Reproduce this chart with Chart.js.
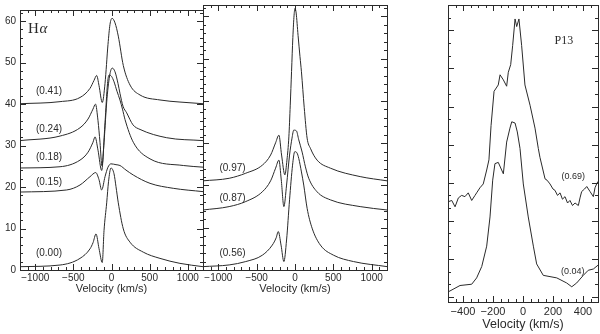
<!DOCTYPE html>
<html>
<head>
<meta charset="utf-8">
<script src="https://cdn.jsdelivr.net/npm/chart.js@4/dist/chart.umd.min.js"></script>
<style>
  html, body { margin: 0; padding: 0; background: #fff; }
  #wrap { position: relative; width: 600px; height: 334px; overflow: hidden; }
  canvas { position: absolute; top: 0; }
</style>
</head>
<body>
<div id="wrap">
  <canvas id="haLeft" width="205" height="300" style="left:0"></canvas>
  <canvas id="haMid" width="195" height="300" style="left:195px"></canvas>
  <canvas id="p13" width="170" height="334" style="left:430px"></canvas>
</div>
<script>
// ─── Data ───────────────────────────────────────────────────────────────────
// velocity (km/s) and flux for each Hα phase, left panel
const phasesLeft = ['(0.41)', '(0.24)', '(0.18)', '(0.15)', '(0.00)'];
const v041 = [-1200, -675, -413, -282, -230, -194, -164, -121, -85, -46, -20, 7, 46, 89, 155, 243, 374, 636, 898, 1200];
const f041 = [40.1, 40.6, 41.6, 43.8, 45.7, 46.9, 44.5, 40.4, 45.0, 54.4, 59.2, 60.7, 59.6, 56.4, 49.3, 44.6, 42.2, 41.0, 40.5, 40.1];
const v024 = [-1200, -675, -413, -308, -243, -210, -177, -151, -125, -98, -59, -20, 10, 46, 85, 111, 151, 199, 282, 374, 724, 1200];
const f024 = [31.2, 32.3, 34.3, 36.4, 38.8, 40.0, 36.0, 30.8, 25.1, 30.8, 41.4, 47.3, 48.7, 47.8, 45.0, 42.6, 39.5, 37.9, 35.0, 33.9, 31.9, 31.2];
const v018 = [-1200, -675, -413, -308, -243, -216, -177, -129, -85, -52, -33, 0, 33, 72, 111, 144, 177, 286, 505, 942, 1200];
const f018 = [24.6, 24.9, 26.5, 28.4, 30.8, 32.1, 28.9, 24.0, 35.5, 45.0, 47.0, 46.7, 45.4, 43.1, 41.0, 38.8, 36.3, 30.8, 26.8, 25.2, 24.8];
const v015 = [-1200, -588, -413, -282, -207, -164, -129, -85, -46, -7, 59, 111, 190, 286, 505, 810, 1200];
const f015 = [18.8, 19.3, 20.5, 22.5, 23.5, 21.8, 19.3, 22.5, 24.8, 25.6, 25.4, 25.2, 24.1, 22.9, 20.9, 19.7, 18.9];
const v000 = [-1200, -675, -413, -282, -242, -203, -164, -121, -98, -63, -39, -7, 33, 59, 89, 155, 243, 417, 636, 898, 1200];
const f000 = [0.8, 1.2, 2.8, 5.1, 6.6, 8.7, 5.2, 1.8, 9.5, 16.2, 21.3, 24.6, 23.2, 20.1, 16.2, 9.9, 6.7, 4.3, 2.8, 1.6, 0.8];

// middle panel
const phasesMid = ['(0.97)', '(0.87)', '(0.56)'];
const v097 = [-1200, -859, -642, -426, -318, -253, -210, -175, -132, -105, -80, -62, -45, -28, -12, 0, 15, 40, 65, 84, 120, 158, 201, 288, 461, 850, 1200];
const f097 = [21.1, 21.7, 22.9, 24.8, 27.2, 30.1, 31.9, 27.2, 22.5, 26.0, 31.5, 39.0, 47.0, 55.0, 60.3, 61.9, 60.8, 55.5, 50.5, 46.9, 38.5, 31.2, 28.8, 26.0, 24.1, 22.1, 21.1];
const v087 = [-1200, -859, -642, -426, -318, -253, -210, -179, -145, -110, -71, -39, -16, 19, 49, 93, 136, 179, 288, 461, 850, 1200];
const f087 = [14.2, 15.0, 16.2, 18.5, 21.1, 24.1, 26.0, 21.3, 15.0, 20.1, 27.2, 31.2, 33.1, 32.9, 30.8, 27.9, 24.4, 21.7, 18.5, 16.6, 15.0, 14.2];
const v056 = [-1200, -859, -642, -426, -296, -246, -218, -182, -145, -110, -71, -32, -3, 26, 49, 84, 114, 158, 223, 331, 503, 763, 1200];
const f056 = [0.8, 1.2, 2.0, 3.5, 5.9, 7.6, 9.1, 5.9, 2.0, 7.1, 16.6, 24.8, 28.0, 27.7, 26.4, 23.2, 20.1, 14.6, 9.9, 5.9, 3.5, 2.0, 0.8];

// P13 panel
const phasesP13 = ['(0.69)', '(0.04)'];
const vP069 = [-498, -475, -453, -431, -409, -387, -365, -342, -320, -309, -287, -265, -242, -227, -213, -193, -165, -153, -131, -109, -98, -82, -69, -53, -42, -27, -9, 13, 47, 80, 102, 113, 147, 160, 180, 200, 213, 230, 247, 263, 280, 297, 313, 330, 347, 369, 380, 391, 410, 425, 447, 469, 480, 491, 500];
const fP069 = [1.65, 1.66, 1.61, 1.68, 1.70, 1.69, 1.72, 1.66, 1.70, 1.72, 1.76, 1.79, 1.90, 1.98, 2.25, 2.52, 2.57, 2.65, 2.61, 2.56, 2.67, 2.73, 2.88, 3.09, 3.03, 3.09, 2.88, 2.57, 2.41, 2.23, 2.07, 2.00, 1.83, 1.82, 1.79, 1.75, 1.74, 1.70, 1.72, 1.67, 1.69, 1.64, 1.66, 1.62, 1.64, 1.62, 1.68, 1.73, 1.75, 1.77, 1.73, 1.69, 1.76, 1.79, 1.81];
const vP004 = [-498, -420, -342, -309, -275, -242, -220, -202, -187, -165, -131, -109, -87, -75, -53, -38, -20, 2, 35, 69, 91, 135, 225, 291, 325, 358, 402, 435, 469, 500];
const fP004 = [0.94, 0.99, 1.00, 1.05, 1.14, 1.30, 1.53, 1.82, 1.95, 1.96, 1.87, 2.12, 2.23, 2.28, 2.27, 2.20, 2.07, 1.79, 1.53, 1.30, 1.16, 1.07, 1.05, 1.01, 0.98, 1.01, 1.07, 1.11, 1.12, 1.15];

// tick labels
const haVelTicks = [-1000, -500, 0, 500, 1000];
const haFluxTicks = [0, 10, 20, 30, 40, 50, 60];
const p13VelTicks = [-400, -200, 0, 200, 400];

// ─── Shared styling ─────────────────────────────────────────────────────────
const INK = '#2a2a2a';
const SANS = '"Liberation Sans", Arial, sans-serif';
const SERIF = '"Liberation Serif", "Times New Roman", serif';

const pts = (vs, fs) => vs.map((v, i) => ({ x: v, y: fs[i] }));
const line = (vs, fs, smooth) => ({
    data: pts(vs, fs),
    borderColor: INK,
    borderWidth: 1,
    pointRadius: 0,
    fill: false,
    tension: smooth ? 0.4 : 0,
    cubicInterpolationMode: smooth ? 'monotone' : 'default'
});
const velLabel = v => (v < 0 ? '\u2212' : '') + Math.abs(v);

// frame + inward ticks + in-panel annotations
const frameTicks = {
    id: 'frameTicks',
    afterDraw(chart, args, o) {
        const { ctx, chartArea: a } = chart;
        const xs = chart.scales.x, ys = chart.scales.y;
        const steps = (min, max, step) => {
            const out = [];
            for (let k = Math.ceil(min / step - 1e-9); k * step <= max + 1e-9; k++) out.push(k * step);
            return out;
        };
        const isMajor = (v, step) => Math.abs(v / step - Math.round(v / step)) < 1e-6;

        ctx.save();
        ctx.strokeStyle = INK;
        ctx.lineWidth = 1;
        ctx.strokeRect(a.left + 0.5, a.top + 0.5, a.right - a.left, a.bottom - a.top);
        ctx.beginPath();
        steps(xs.min, xs.max, o.xMinor).forEach(v => {
            const len = isMajor(v, o.xMajor) ? 6 : 3;
            const px = Math.round(xs.getPixelForValue(v)) + 0.5;
            ctx.moveTo(px, a.bottom); ctx.lineTo(px, a.bottom - len);
            ctx.moveTo(px, a.top); ctx.lineTo(px, a.top + len);
        });
        steps(ys.min, ys.max, o.yMinor).forEach(v => {
            const len = isMajor(v, o.yMajor) ? 6 : 3;
            const py = Math.round(ys.getPixelForValue(v)) + 0.5;
            ctx.moveTo(a.left, py); ctx.lineTo(a.left + len, py);
            ctx.moveTo(a.right, py); ctx.lineTo(a.right - len, py);
        });
        ctx.stroke();

        ctx.fillStyle = INK;
        ctx.textBaseline = 'middle';
        (o.notes || []).forEach(n => {
            ctx.font = n.font || `10px ${SANS}`;
            ctx.textAlign = n.align || 'center';
            ctx.fillText(n.text, xs.getPixelForValue(n.x), ys.getPixelForValue(n.y));
        });
        ctx.restore();
    }
};

const xAxis = (min, max, ticks, height, tickSize, tickPad, titleSize, titlePad) => ({
    type: 'linear',
    min, max,
    afterBuildTicks: s => { s.ticks = ticks.map(v => ({ value: v })); },
    afterFit: s => { s.height = height; },
    grid: { display: false, drawTicks: false },
    border: { display: false },
    ticks: { color: INK, font: { family: SANS, size: tickSize }, padding: tickPad, maxRotation: 0, autoSkip: false, callback: velLabel },
    title: { display: true, text: 'Velocity (km/s)', color: INK, font: { family: SANS, size: titleSize }, padding: { top: 0, bottom: titlePad } }
});

const baseOptions = (scales, frame, padding) => ({
    responsive: false,
    animation: false,
    events: [],
    layout: { padding },
    scales,
    plugins: { legend: { display: false }, tooltip: { enabled: false }, frameTicks: frame }
});

// ─── Left Hα panel ──────────────────────────────────────────────────────────
new Chart(document.getElementById('haLeft'), {
    type: 'line',
    data: { datasets: [
        line(v041, f041, true), line(v024, f024, true), line(v018, f018, true),
        line(v015, f015, true), line(v000, f000, true)
    ] },
    options: baseOptions({
        x: xAxis(-1200, 1200, haVelTicks, 30, 10, 2, 11, 4),
        y: {
            type: 'linear', min: 0, max: 62.7,
            afterBuildTicks: s => { s.ticks = haFluxTicks.map(v => ({ value: v })); },
            afterFit: s => { s.width = 20; },
            grid: { display: false, drawTicks: false },
            border: { display: false },
            ticks: { color: INK, font: { family: SANS, size: 10 }, padding: 4 }
        }
    }, {
        xMinor: 100, xMajor: 500, yMinor: 2, yMajor: 10,
        notes: [
            { text: 'H', x: -1095, y: 58.2, align: 'left', font: `15px ${SERIF}` },
            { text: '\u03b1', x: -945, y: 58.2, align: 'left', font: `italic 15px ${SERIF}` },
            { text: phasesLeft[0], x: -820, y: 43.0 },
            { text: phasesLeft[1], x: -820, y: 33.9 },
            { text: phasesLeft[2], x: -820, y: 27.2 },
            { text: phasesLeft[3], x: -820, y: 21.1 },
            { text: phasesLeft[4], x: -820, y: 4.0 }
        ]
    }, { left: 0, top: 5, right: 2, bottom: 0 }),
    plugins: [frameTicks]
});

// ─── Middle Hα panel ────────────────────────────────────────────────────────
new Chart(document.getElementById('haMid'), {
    type: 'line',
    data: { datasets: [
        line(v097, f097, true), line(v087, f087, true), line(v056, f056, true)
    ] },
    options: baseOptions({
        x: xAxis(-1200, 1200, haVelTicks, 30, 10, 2, 11, 4),
        y: { type: 'linear', min: 0, max: 62.7, display: false }
    }, {
        xMinor: 100, xMajor: 500, yMinor: 2, yMajor: 10,
        notes: [
            { text: phasesMid[0], x: -815, y: 24.1 },
            { text: phasesMid[1], x: -815, y: 17.0 },
            { text: phasesMid[2], x: -815, y: 4.0 }
        ]
    }, { left: 8, top: 5, right: 3, bottom: 0 }),
    plugins: [frameTicks]
});

// ─── P13 panel ──────────────────────────────────────────────────────────────
new Chart(document.getElementById('p13'), {
    type: 'line',
    data: { datasets: [
        line(vP069, fP069, false), line(vP004, fP004, false)
    ] },
    options: baseOptions({
        x: xAxis(-500, 500, p13VelTicks, 32, 11, 3, 12.5, 2),
        y: { type: 'linear', min: 0.86, max: 3.2, display: false }
    }, {
        xMinor: 50, xMajor: 200, yMinor: 0.1, yMajor: 0.3,
        notes: [
            { text: 'P13', x: 273, y: 2.92, font: `12px ${SERIF}` },
            { text: phasesP13[0], x: 335, y: 1.85, font: `9px ${SANS}` },
            { text: phasesP13[1], x: 331, y: 1.10, font: `9px ${SANS}` }
        ]
    }, { left: 18, top: 5, right: 2, bottom: 0 }),
    plugins: [frameTicks]
});
</script>
</body>
</html>
